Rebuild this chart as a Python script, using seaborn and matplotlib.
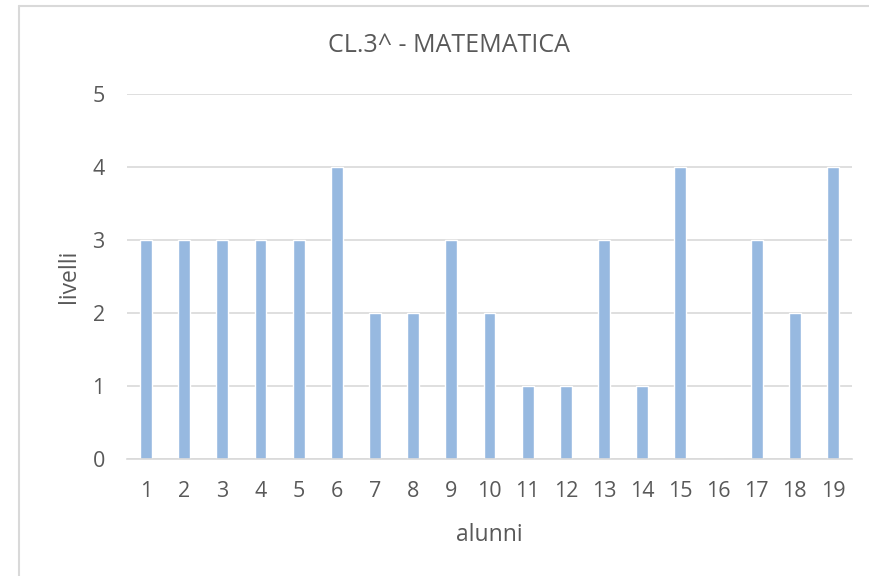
import matplotlib
matplotlib.use("Agg")
import matplotlib.pyplot as plt
import seaborn as sns
import pandas as pd
from matplotlib.lines import Line2D

# dati
alunni = [str(i) for i in range(1, 20)]
livelli = [3, 3, 3, 3, 3, 4, 2, 2, 3, 2, 1, 1, 3, 1, 4, 0, 3, 2, 4]

titolo = "CL.3^ - MATEMATICA"
bar_color = "#97B9E0"
text_color = "#595959"
grid_color = "#D9D9D9"

sns.set_theme(style="white")
plt.rcParams['font.family'] = ['Open Sans', 'DejaVu Sans']

df = pd.DataFrame({'alunni': alunni, 'livelli': livelli})

fig = plt.figure(figsize=(8.7, 5.76), dpi=100)
ax = fig.add_axes([127 / 870, 1 - 459 / 576, (852 - 127) / 870, (459 - 94) / 576])

sns.barplot(x='alunni', y='livelli', data=df, order=alunni,
            color=bar_color, width=0.31, saturation=1, ax=ax)

ax.set_ylim(0, 5)
ax.set_xlim(-0.5, len(alunni) - 0.5)
ax.set_yticks(range(0, 6))
ax.yaxis.grid(True, color=grid_color, linewidth=1.2)
ax.set_axisbelow(True)
for s in ['top', 'right', 'left']:
    ax.spines[s].set_visible(False)
ax.spines['bottom'].set_color(grid_color)
ax.spines['bottom'].set_linewidth(1.2)
ax.tick_params(axis='both', length=0, labelsize=15.5, colors=text_color)
ax.tick_params(axis='x', pad=16)
ax.tick_params(axis='y', pad=16)

ax.set_xlabel('alunni', fontsize=16.5, color=text_color, labelpad=15)
ax.set_ylabel('livelli', fontsize=16.5, color=text_color, labelpad=8)

fig.text(449 / 870, 1 - 46 / 576, titolo, ha='center', va='center',
         fontsize=18, color=text_color)

# bordo dell'area del grafico (sinistra e alto)
fig.add_artist(Line2D([19 / 870, 19 / 870], [0, 1 - 6 / 576],
                      transform=fig.transFigure, color=grid_color, linewidth=1.5))
fig.add_artist(Line2D([19 / 870, 1], [1 - 6 / 576, 1 - 6 / 576],
                      transform=fig.transFigure, color=grid_color, linewidth=1.5))

fig.savefig('out.png', dpi=100)
